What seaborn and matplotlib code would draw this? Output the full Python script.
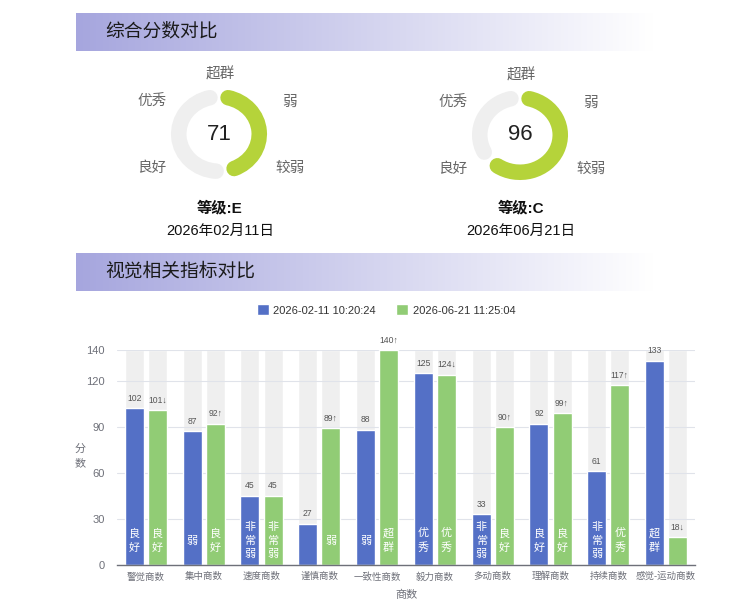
import numpy as np
import pandas as pd
import matplotlib
matplotlib.use("Agg")
import matplotlib.pyplot as plt
import seaborn as sns
from matplotlib.patches import Arc

# ---------------- data ----------------
categories = ['警觉商数', '集中商数', '速度商数', '谨慎商数', '一致性商数',
              '毅力商数', '多动商数', '理解商数', '持续商数', '感觉-运动商数']
series_names = ['2026-02-11 10:20:24', '2026-06-21 11:25:04']
scores_first = [102, 87, 45, 27, 88, 125, 33, 92, 61, 133]
scores_second = [101, 92, 45, 89, 140, 124, 90, 99, 117, 18]
grades_first = ['良好', '弱', '非常弱', '', '弱', '优秀', '非常弱', '良好', '非常弱', '超群']
grades_second = ['良好', '良好', '非常弱', '弱', '超群', '优秀', '良好', '良好', '优秀', '']
y_max = 140
y_ticks = [0, 30, 60, 90, 120, 140]

gauge_scores = [71, 96]
gauge_grades = ['E', 'C']
gauge_dates = ['2026年02月11日', '2026年06月21日']
gauge_max = 150
gauge_level_labels = ['超群', '弱', '较弱', '良好', '优秀']
section_titles = ['综合分数对比', '视觉相关指标对比']

# ---------------- style ----------------
sns.set_style("white")
plt.rcParams['font.family'] = ['Liberation Sans', 'Noto Sans CJK SC', 'DejaVu Sans']
plt.rcParams['axes.unicode_minus'] = False

W, H = 745, 610
fig = plt.figure(figsize=(W / 100, H / 100), dpi=100)


def px_rect(l, t, w, h):
    return [l / W, 1 - (t + h) / H, w / W, h / H]


def fig_xy(x, y):
    return x / W, 1 - y / H


# ---------------- section bands ----------------
band_left = np.array([166, 166, 222]) / 255.0
n = 400
t = np.clip(np.linspace(0, 1, n) / 0.97, 0, 1)
grad = band_left[None, :] * (1 - t[:, None]) + np.ones(3)[None, :] * t[:, None]
grad = grad[None, :, :]
for top, title in zip([13, 253], section_titles):
    bax = fig.add_axes(px_rect(76, top, 594, 38))
    bax.imshow(grad, aspect='auto', extent=[0, 1, 0, 1])
    bax.set_xlim(0, 1)
    bax.set_ylim(0, 1)
    bax.axis('off')
    bax.text(29 / 594, 0.5, title, va='center', ha='left', fontsize=13.5, color='#1a1a1a')

# ---------------- gauges ----------------
gauge_centers = [(219, 134), (520, 135)]
label_offsets = [(1, -59), (71, -32), (71, 34), (-67, 34), (-67, -32)]
ring_px = 15.5
for (cx, cy), score, grade, date in zip(gauge_centers, gauge_scores, gauge_grades, gauge_dates):
    gax = fig.add_axes(px_rect(cx - 48, cy - 45, 96, 90))
    gax.set_xlim(-48, 48)
    gax.set_ylim(-45, 45)
    gax.axis('off')
    rx, ry = 48 - ring_px / 2, 45 - ring_px / 2
    lw = ring_px * 72 / 100
    span = score / gauge_max * 360
    pad = 14
    gax.add_patch(Arc((0, 0), 2 * rx, 2 * ry, theta1=90 - 360 + pad, theta2=90 - span - pad,
                      color='#efefef', lw=lw, capstyle='round', clip_on=False))
    gax.add_patch(Arc((0, 0), 2 * rx, 2 * ry, theta1=90 - span + pad, theta2=90 - pad,
                      color='#b5d33a', lw=lw, capstyle='round', clip_on=False))
    gax.text(0, 0, str(score), ha='center', va='center', fontsize=16, color='#222222')
    for lab, (dx, dy) in zip(gauge_level_labels, label_offsets):
        fig.text(*fig_xy(cx + dx, cy + dy), lab, ha='center', va='center',
                 fontsize=10.5, color='#666666')
    fig.text(*fig_xy(cx + 1, 208), '等级:' + grade, ha='center', va='center',
             fontsize=11, fontweight='bold', color='#111111')
    fig.text(*fig_xy(cx + 1, 231), date, ha='center', va='center',
             fontsize=10.5, color='#111111')

# ---------------- bar chart ----------------
df = pd.DataFrame({
    'category': categories * 2,
    'time': [series_names[0]] * len(categories) + [series_names[1]] * len(categories),
    'score': scores_first + scores_second,
})
df_bg = df.assign(score=y_max)

ax = fig.add_axes(px_rect(117, 350, 578, 215))
sns.barplot(data=df_bg, x='category', y='score', hue='time', order=categories,
            hue_order=series_names, palette=['#efefef', '#efefef'], saturation=1,
            width=0.8, gap=0.18, errorbar=None, legend=False, ax=ax, zorder=1)
n_bg = len(ax.containers)
sns.barplot(data=df, x='category', y='score', hue='time', order=categories,
            hue_order=series_names, palette=['#5470c6', '#91cc75'], saturation=1,
            width=0.8, gap=0.18, errorbar=None, ax=ax, zorder=2)

ax.set_xlim(-0.5, len(categories) - 0.5)
ax.set_ylim(0, y_max)
ax.set_yticks(y_ticks)
ax.set_axisbelow('line')
ax.yaxis.grid(True, color='#e0e3ea', lw=0.8)
ax.xaxis.grid(False)
for s in ['top', 'right', 'left']:
    ax.spines[s].set_visible(False)
ax.spines['bottom'].set_color('#6e7079')
ax.spines['bottom'].set_linewidth(1)
ax.tick_params(axis='y', length=0, pad=9, labelsize=8, labelcolor='#6e7079')
ax.tick_params(axis='x', which='major', length=0, pad=5, labelsize=6.8, labelcolor='#6e7079')
ax.set_xticks(np.arange(-0.5, len(categories), 1), minor=True)
ax.tick_params(axis='x', which='minor', length=4, width=1, color='#6e7079', direction='out')
ax.set_xlabel('商数', fontsize=8, color='#6e7079', labelpad=6)
ax.set_ylabel('')
fig.text(*fig_xy(80, 456), '分\n数', ha='center', va='center', fontsize=8,
         color='#6e7079', linespacing=1.64)


def arrow_label(a, b):
    if b > a:
        return f'{b}↑'
    if b < a:
        return f'{b}↓'
    return f'{b}'


labels_first = [str(v) for v in scores_first]
labels_second = [arrow_label(a, b) for a, b in zip(scores_first, scores_second)]

for cont, vlabels, grades in zip(ax.containers[n_bg:], [labels_first, labels_second],
                                 [grades_first, grades_second]):
    for patch, vl, g in zip(cont.patches, vlabels, grades):
        x = patch.get_x() + patch.get_width() / 2
        h = patch.get_height()
        ax.annotate(vl, (x, h), xytext=(0, 7.2), textcoords='offset points',
                    ha='center', va='center', fontsize=6.2, color='#555555',
                    annotation_clip=False, zorder=4)
        if g:
            ax.annotate('\n'.join(g), (x, 0), xytext=(0, 17.5), textcoords='offset points',
                        ha='center', va='center', fontsize=8, color='white',
                        linespacing=1.42, zorder=4)

sns.move_legend(ax, 'center', bbox_to_anchor=fig_xy(386, 310), bbox_transform=fig.transFigure,
                ncol=2, frameon=False, title=None, fontsize=8, handlelength=1.1,
                handleheight=1.1, handletextpad=0.4, columnspacing=1.8, borderpad=0)
for txt in ax.get_legend().get_texts():
    txt.set_color('#333333')

fig.savefig('out.png', dpi=100)
